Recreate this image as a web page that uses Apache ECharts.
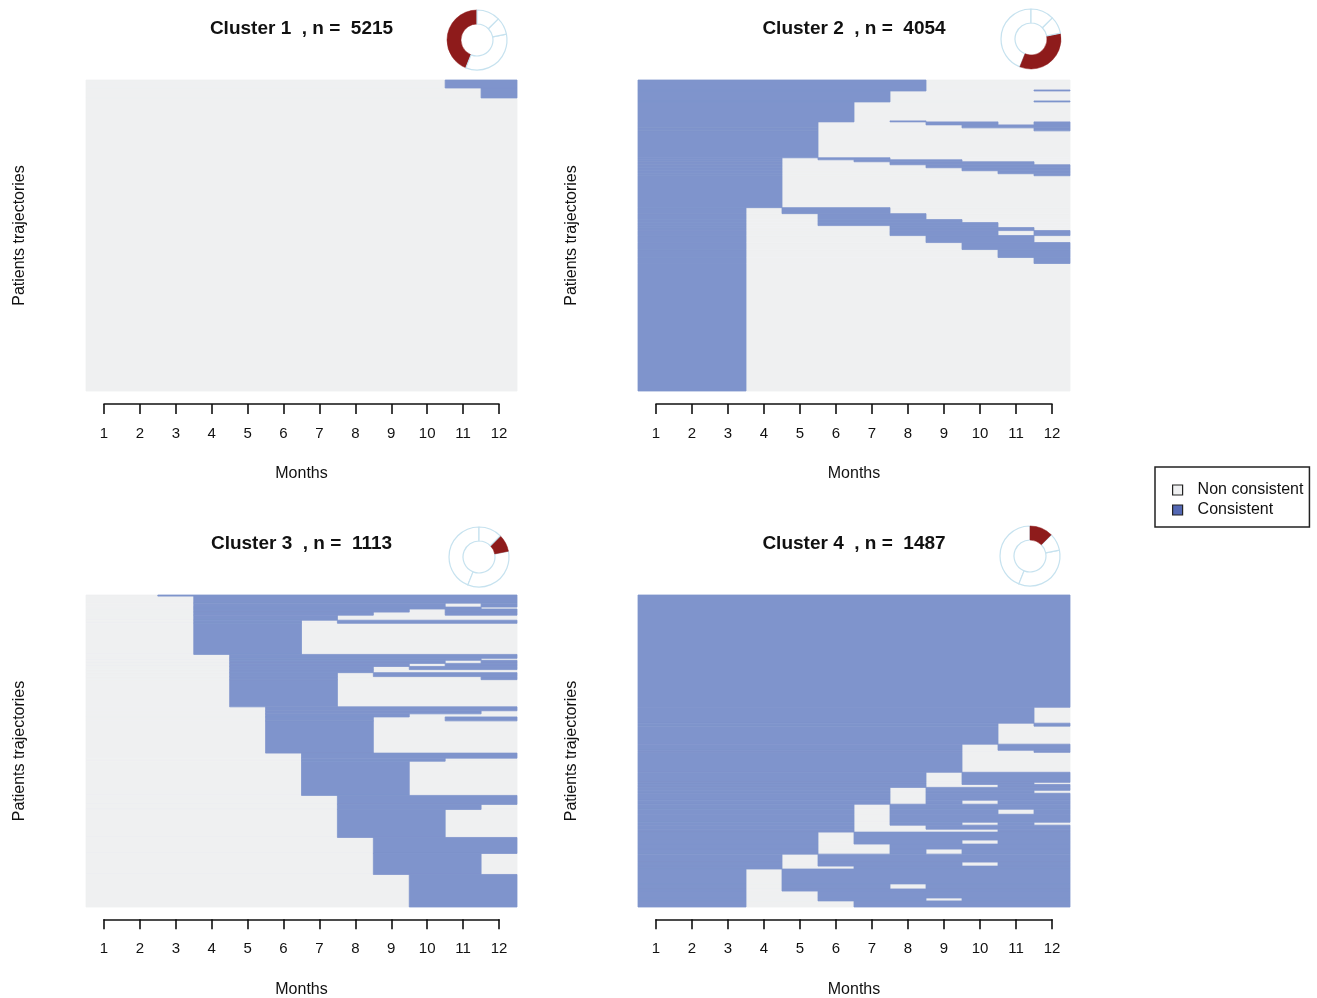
<!DOCTYPE html>
<html>
<head>
<meta charset="utf-8">
<script src="https://cdn.jsdelivr.net/npm/echarts@6/dist/echarts.min.js"></script>
<style>
html,body{margin:0;padding:0;background:#ffffff;}
#chart{width:1317px;height:998px;}
</style>
</head>
<body>
<div id="chart"></div>
<script>
// ---------------- DATA ----------------
const months = ['1','2','3','4','5','6','7','8','9','10','11','12'];
const clusterLabels = ['Cluster 1', 'Cluster 2', 'Cluster 3', 'Cluster 4'];
const clusterSizes = [5215, 4054, 1113, 1487];
const stateNames = ['Non consistent', 'Consistent'];

// Each sequence: 12 months, '1' = Consistent, '0' = Non consistent; counts = number of patients
const c1Seq = ['000000000011', '000000000001', '000000000000'];
const c1Count = [134, 167, 4914];

const c2Seq = [
  '111111110000','111111110001','111111100000','111111100001','111111000000','111111010000',
  '111110001101','111110000111','111110000001','111110000000',
  '111101100000','111100111000','111100011110','111100001111','111100000111','111100000011','111100000001','111100000000',
  '111011100000','111001110000','111001111000','111001111100','111000011100','111000011110','111000011101',
  '111000001110','111000000111','111000000011','111000000001','111000000000'
];
const c2Count = [
  130, 13, 130, 13, 247, 13,
  39, 39, 39, 351,
  26, 26, 39, 39, 39, 39, 26, 416,
  78, 78, 39, 39, 26, 39, 65,
  91, 91, 104, 78, 1662
];

const c3Seq = [
  '001111111111',
  '000111111111','000111111101','000111111110','000111111011','000111110011','000111100000','000111011111','000111000000',
  '000011111111','000011111110','000011111101','000011111011','000011110111','000011110000','000011101111','000011100001','000011100000',
  '000001111111','000001111110','000001111000','000001110011','000001110000',
  '000000111111','000000111100','000000111000',
  '000000011111','000000011110','000000011100',
  '000000001111','000000001110',
  '000000000111'
];
const c3Count = [
  4,
  25, 14, 7, 11, 11, 18, 11, 111,
  14, 7, 11, 11, 11, 11, 14, 11, 97,
  14, 11, 11, 14, 115,
  18, 11, 122,
  32, 18, 100,
  57, 75,
  116
];

const c4Seq = [
  '111111111111','111111111110','111111111101','111111111100',
  '111111111011','111111111001','111111111000',
  '111111110111','111111110110','111111110011',
  '111111101111','111111101110','111111101111','111111101011',
  '111111011111','111111011101','111111011111','111111011010','111111001111','111111000011',
  '111110111111','111110111011','111110011111','111110010111',
  '111101111111','111101111011','111100111111',
  '111011111111','111011101111','111011111111','111001111111','111001110111','111000111111'
];
const c4Count = [
  535, 76, 14, 86,
  29, 10, 95,
  48, 10, 14,
  14, 14, 33, 19,
  24, 24, 38, 14, 19, 14,
  38, 19, 24, 24,
  38, 19, 14,
  71, 24, 10, 33, 14, 29
];

const clusterSeqs = [c1Seq, c2Seq, c3Seq, c4Seq];
const clusterCounts = [c1Count, c2Count, c3Count, c4Count];

// ---------------- STYLE / LAYOUT ----------------
const FONT = '"Liberation Sans", Arial, Helvetica, sans-serif';
const COL_N = '#eff0f1';
const COL_C = '#7f94cc';
const COL_RED = '#8e1b1b';
const COL_RING = '#c6e2ef';
const INK = '#111111';

const panels = [
  {heat:{left:86,  top:80,  width:431, height:311}, axis:{left:104, width:395, lineY:404}, donut:[477, 40],  titleX:301.5, titleY:19},
  {heat:{left:638, top:80,  width:432, height:311}, axis:{left:656, width:396, lineY:404}, donut:[1031, 39], titleX:854,   titleY:19},
  {heat:{left:86,  top:595, width:431, height:312}, axis:{left:104, width:395, lineY:920}, donut:[479, 557], titleX:301.5, titleY:534},
  {heat:{left:638, top:595, width:432, height:312}, axis:{left:656, width:396, lineY:920}, donut:[1030, 556],titleX:854,   titleY:534}
];

// Build run tables [monthStart, monthEnd, rowStart, rowEnd] for each state
function buildRuns(seqs, counts, stateChar) {
  const out = [];
  let row = 0;
  for (let r = 0; r < seqs.length; r++) {
    const s = seqs[r];
    const r0 = row, r1 = row + counts[r];
    let m = 0;
    while (m < 12) {
      if (s[m] === stateChar) {
        let e = m;
        while (e < 12 && s[e] === stateChar) e++;
        out.push([m, e, r0, r1]);
        m = e;
      } else m++;
    }
    row = r1;
  }
  return out;
}

function makeRender(color) {
  return function (params, api) {
    const a = api.coord([api.value(0), api.value(2)]);
    const b = api.coord([api.value(1), api.value(3)]);
    return {
      type: 'rect',
      shape: {x: a[0], y: Math.min(a[1], b[1]), width: b[0] - a[0], height: Math.abs(b[1] - a[1])},
      style: {fill: color, stroke: color, lineWidth: 0.8}
    };
  };
}

const grid = [], xAxis = [], yAxis = [], series = [], title = [];

panels.forEach((p, i) => {
  const gh = 2 * i, ga = 2 * i + 1;
  grid.push({left: p.heat.left, top: p.heat.top, width: p.heat.width, height: p.heat.height, containLabel: false});
  grid.push({left: p.axis.left, top: p.axis.lineY - 1, width: p.axis.width, height: 1, containLabel: false});

  xAxis.push({gridIndex: gh, type: 'value', min: 0, max: 12, show: false});
  yAxis.push({
    gridIndex: gh, type: 'value', min: 0, max: clusterSizes[i], inverse: true, show: true,
    axisLine: {show: false}, axisTick: {show: false}, axisLabel: {show: false}, splitLine: {show: false},
    name: 'Patients trajectories', nameLocation: 'middle', nameRotate: 90, nameGap: 58,
    nameTextStyle: {fontSize: 16, color: INK, fontFamily: FONT}
  });

  xAxis.push({
    gridIndex: ga, type: 'category', data: months, boundaryGap: false, position: 'bottom',
    axisLine: {show: true, lineStyle: {color: INK, width: 1.6}},
    axisTick: {show: true, length: 10, interval: 0, lineStyle: {color: INK, width: 1.6}},
    axisLabel: {show: true, interval: 0, margin: 22, fontSize: 15, color: INK, fontFamily: FONT},
    splitLine: {show: false},
    name: 'Months', nameLocation: 'middle', nameGap: 62,
    nameTextStyle: {fontSize: 16, color: INK, fontFamily: FONT}
  });
  yAxis.push({gridIndex: ga, type: 'value', show: false, min: 0, max: 1});

  const seqs = clusterSeqs[i], counts = clusterCounts[i];
  series.push({
    type: 'custom', name: stateNames[0], xAxisIndex: gh, yAxisIndex: gh,
    renderItem: makeRender(COL_N), data: buildRuns(seqs, counts, '0'),
    encode: {x: [0, 1], y: [2, 3]}, itemStyle: {color: COL_N}, silent: true, animation: false
  });
  series.push({
    type: 'custom', name: stateNames[1], xAxisIndex: gh, yAxisIndex: gh,
    renderItem: makeRender(COL_C), data: buildRuns(seqs, counts, '1'),
    encode: {x: [0, 1], y: [2, 3]}, itemStyle: {color: COL_C}, silent: true, animation: false
  });

  series.push({
    type: 'pie', center: p.donut, radius: [16, 30], startAngle: 90, clockwise: false,
    silent: true, animation: false, label: {show: false}, labelLine: {show: false},
    emphasis: {disabled: true},
    data: clusterLabels.map((lab, k) => ({
      name: lab, value: clusterSizes[k],
      itemStyle: k === i
        ? {color: COL_RED, borderColor: COL_RED, borderWidth: 0.5}
        : {color: '#ffffff', borderColor: COL_RING, borderWidth: 1.2}
    }))
  });

  title.push({
    text: clusterLabels[i] + '  , n =  ' + clusterSizes[i],
    left: p.titleX, top: p.titleY, textAlign: 'center', padding: 0,
    textStyle: {fontSize: 19, fontWeight: 'bold', color: INK, fontFamily: FONT}
  });
});

const option = {
  backgroundColor: '#ffffff',
  animation: false,
  title: title,
  grid: grid,
  xAxis: xAxis,
  yAxis: yAxis,
  legend: {
    orient: 'vertical', left: 1155, top: 467,
    selectedMode: false,
    data: [
      {name: stateNames[0], icon: 'rect', itemStyle: {color: COL_N, borderColor: '#222', borderWidth: 1.2}},
      {name: stateNames[1], icon: 'rect', itemStyle: {color: '#5468b4', borderColor: '#222', borderWidth: 1.2}}
    ],
    itemWidth: 10, itemHeight: 10, itemGap: 4,
    padding: [15, 6, 9, 17],
    borderColor: '#222', borderWidth: 1.5, borderRadius: 0,
    textStyle: {fontSize: 16, color: INK, fontFamily: FONT, padding: [0, 0, 0, 10], lineHeight: 16}
  },
  series: series
};

const chart = echarts.init(document.getElementById('chart'), null, {renderer: 'canvas', width: 1317, height: 998});
chart.setOption(option);
</script>
</body>
</html>
